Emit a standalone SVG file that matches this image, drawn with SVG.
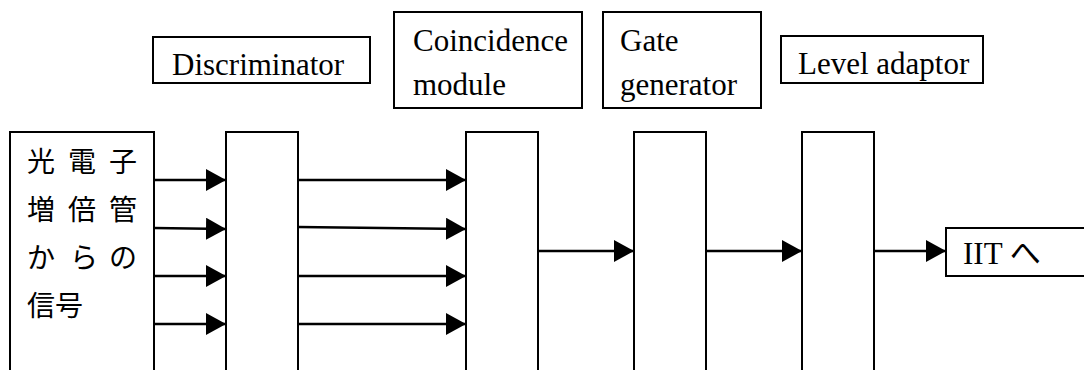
<svg xmlns="http://www.w3.org/2000/svg" width="1084" height="370" viewBox="0 0 1084 370">
<style>
.box{fill:#fff;stroke:#000;stroke-width:2}
.lbl{font-family:"Liberation Serif","Noto Sans CJK JP",serif;font-size:31px;fill:#000}
.jp{font-family:"Noto Sans CJK JP",sans-serif;font-size:28px;fill:#000}
.ln{stroke:#000;stroke-width:2.5;fill:none;marker-end:url(#ah)}
</style>
<defs>
<marker id="ah" markerUnits="userSpaceOnUse" markerWidth="20" markerHeight="22" refX="20" refY="11" orient="auto">
<path d="M0,0 L20,11 L0,22 z" fill="#000"/>
</marker>
</defs>
<g id="label-discriminator">
<rect class="box" x="153" y="37" width="217" height="46"/>
<text class="lbl" x="172" y="75">Discriminator</text>
</g>
<g id="label-coincidence">
<rect class="box" x="394" y="12" width="188" height="96"/>
<text class="lbl" x="413" y="51">Coincidence</text>
<text class="lbl" x="413" y="95">module</text>
</g>
<g id="label-gate">
<rect class="box" x="603" y="12" width="158" height="96"/>
<text class="lbl" x="620" y="51">Gate</text>
<text class="lbl" x="620" y="95">generator</text>
</g>
<g id="label-level">
<rect class="box" x="781" y="36" width="202" height="47"/>
<text class="lbl" x="798" y="74">Level adaptor</text>
</g>
<g id="pmt">
<rect class="box" x="10" y="132" width="144" height="255"/>
<text class="jp" x="27 55 68 96 109" y="172">光 電 子</text>
<text class="jp" x="27 55 68 96 109" y="220">増 倍 管</text>
<text class="jp" x="27 55 70 96 109" y="268">か ら の</text>
<text class="jp" x="27" y="316">信号</text>
</g>
<g id="discriminator"><rect class="box" x="226" y="132" width="72" height="255"/></g>
<g id="coincidence"><rect class="box" x="466" y="132" width="72" height="255"/></g>
<g id="gate"><rect class="box" x="634" y="132" width="72" height="255"/></g>
<g id="level"><rect class="box" x="802" y="132" width="72" height="255"/></g>
<g id="iit">
<rect class="box" x="946" y="228" width="150" height="48"/>
<text class="lbl" x="963" y="264">IIT へ</text>
</g>
<g id="connectors">
<line class="ln" x1="154" y1="180" x2="226" y2="180"/>
<line class="ln" x1="154" y1="228" x2="226" y2="229"/>
<line class="ln" x1="154" y1="276" x2="226" y2="276"/>
<line class="ln" x1="154" y1="324" x2="226" y2="324"/>
<line class="ln" x1="298" y1="180" x2="466" y2="180"/>
<line class="ln" x1="298" y1="227" x2="466" y2="229"/>
<line class="ln" x1="298" y1="276" x2="466" y2="276"/>
<line class="ln" x1="298" y1="324" x2="466" y2="324"/>
<line class="ln" x1="538" y1="251" x2="634" y2="251"/>
<line class="ln" x1="706" y1="251" x2="802" y2="251"/>
<line class="ln" x1="874" y1="251" x2="946" y2="251"/>
</g>
</svg>
